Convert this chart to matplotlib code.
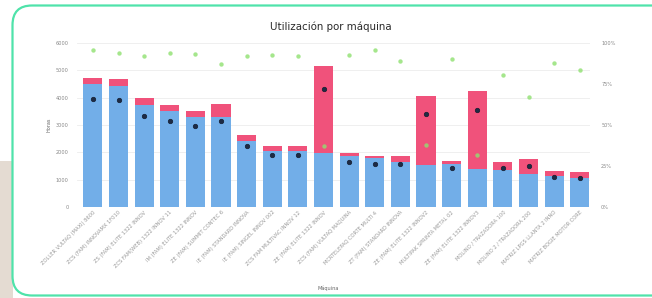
import numpy as np
import matplotlib
matplotlib.use("Agg")
import matplotlib.pyplot as plt
from matplotlib.patches import FancyBboxPatch, Rectangle
from matplotlib.ticker import FuncFormatter

# datos
maquinas = [
    "ZOLLER VULTAQ (MAXI) 8600",
    "ZCS (FAM) INNOVAMX 1F010",
    "ZS (FAM) ELITE 1322 INNOV",
    "ZCS FAM(WEB) 1322 INNOV 11",
    "IM (FAM) ELITE 1322 INNOV",
    "ZE (FAM) SUMMIT CONTEC 6",
    "IE (FAM) STANDARD INNOVA",
    "IE (FAM) SINGEL INNOV 002",
    "ZCS FAM MULTIVAC INNOV 12",
    "ZE (FAM) ELITE 1322 INNOV",
    "ZCS (FAM) VULTAQ MAQUINA",
    "MCRTELEPAQ CORTE MULTI 4",
    "ZT (FAM) STANDARD INNOVA",
    "ZE (FAM) ELITE 1322 INNOV2",
    "MULTIPAK SPRINTA METAL 02",
    "ZE (FAM) ELITE 1322 INNOV3",
    "MOLINO / TRAZADORA 100",
    "MOLINO 2 / TRAZADORA 200",
    "MATRIZ LPGS LLANTA 2 INNO",
    "MATRIZ BOGIE MOTOR CORE",
]
horas_productivas = [4500, 4430, 3730, 3510, 3290, 3290, 2410, 2050, 2050, 1980,
                     1870, 1790, 1650, 1540, 1570, 1390, 1350, 1210, 1130, 1060]
horas_paro = [220, 250, 260, 220, 220, 480, 220, 180, 180, 3180,
              110, 80, 220, 2520, 110, 2850, 300, 550, 190, 220]
horas_promedio = [3950, 3910, 3330, 3150, 2960, 3150, 2230, 1900, 1900, 4320,
                  1650, 1570, 1570, 3400, 1430, 3550, 1430, 1500, 1100, 1060]
utilizacion = [95.7, 93.9, 92.0, 93.9, 93.3, 87.1, 92.0, 92.6, 92.0, 37.0,
               92.6, 95.7, 89.0, 38.0, 90.2, 32.0, 80.4, 66.9, 87.7, 83.4]

W, H = 652, 298
fig = plt.figure(figsize=(W / 100, H / 100), dpi=100)
fig.patch.set_facecolor("white")

# fondo tipo captura: franja beige y marco redondeado verde
fig.patches.append(Rectangle((0, 0), 13 / W, 1 - 161 / H, transform=fig.transFigure,
                             facecolor="#e4dbd2", edgecolor="none", zorder=-3))
fig.patches.append(FancyBboxPatch((12.5 / W, 2.5 / H), 700 / W, 290 / H,
                                  boxstyle="round,pad=0,rounding_size=0.03",
                                  transform=fig.transFigure, mutation_aspect=W / H,
                                  facecolor="white", edgecolor="#4fe3aa",
                                  linewidth=1.6, zorder=-2))

ax = fig.add_axes([77 / W, 1 - 207 / H, 513 / W, 164 / H])
ax.set_facecolor("none")
x = np.arange(len(maquinas))
ancho = 0.75

ax.bar(x, horas_productivas, width=ancho, color="#72aee8", zorder=2)
ax.bar(x, horas_paro, width=ancho, bottom=horas_productivas, color="#f0527b", zorder=2)
ax.scatter(x, horas_promedio, s=11, color="#1d2b45", zorder=4, linewidths=0.4,
           edgecolors="#0e1626")

ax.set_ylim(0, 6000)
ax.set_xlim(-0.62, len(maquinas) - 0.6)
ax.set_yticks(np.arange(0, 6001, 1000))
ax.yaxis.set_major_formatter(FuncFormatter(lambda v, p: f"{int(v)}"))
ax.grid(axis="y", color="#ececec", linewidth=0.6, zorder=0)
ax.set_axisbelow(True)
for s in ax.spines.values():
    s.set_visible(False)
ax.tick_params(axis="y", length=0, labelsize=3.6, labelcolor="#888888", pad=6)
ax.tick_params(axis="x", length=0, labelsize=3.7, labelcolor="#999999", pad=2)
ax.set_xticks(x)
ax.set_xticklabels(maquinas, rotation=45, ha="right", rotation_mode="anchor")
ax.set_ylabel("Horas", fontsize=3.6, color="#666666", labelpad=3)
ax.set_xlabel("Máquina", fontsize=3.6, color="#666666", labelpad=4)
ax.xaxis.set_label_coords(0.49, -0.48)

ax2 = ax.twinx()
ax2.set_ylim(0, 100)
ax2.set_yticks([0, 25, 50, 75, 100])
ax2.yaxis.set_major_formatter(FuncFormatter(lambda v, p: f"{int(v)}%"))
ax2.tick_params(axis="y", length=0, labelsize=3.6, labelcolor="#888888", pad=8)
for s in ax2.spines.values():
    s.set_visible(False)
ax2.scatter(x, utilizacion, s=10, color="#8fe070", alpha=0.8, zorder=5,
            linewidths=0)

fig.text(331 / W, 1 - 27 / H, "Utilización por máquina", ha="center", va="center",
         fontsize=7.4, color="#2a2a2a")

fig.savefig("out.png", dpi=100, facecolor=fig.get_facecolor())
